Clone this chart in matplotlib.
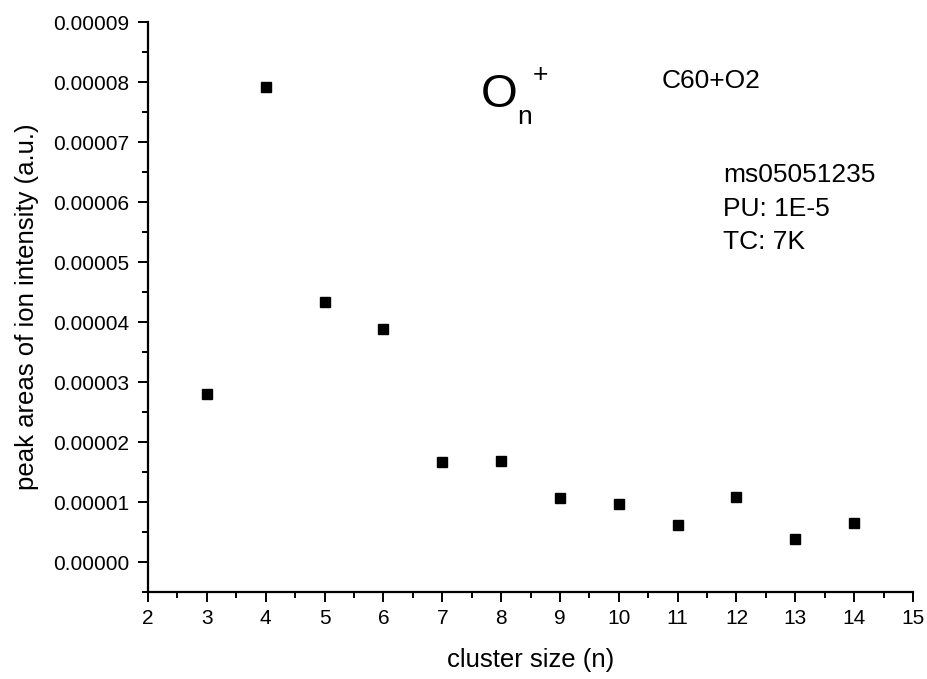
import matplotlib
matplotlib.use('Agg')
import matplotlib.pyplot as plt
from matplotlib.ticker import MultipleLocator, FormatStrFormatter

plt.rcParams['font.family'] = ['Liberation Sans', 'DejaVu Sans']

# cluster size n and peak areas
cluster_size = [3, 4, 5, 6, 7, 8, 9, 10, 11, 12, 13, 14]
peak_area = [2.80e-5, 7.91e-5, 4.33e-5, 3.88e-5, 1.66e-5, 1.68e-5,
             1.06e-5, 0.96e-5, 0.62e-5, 1.08e-5, 0.38e-5, 0.65e-5]

W, H = 928, 679
fig = plt.figure(figsize=(W / 100, H / 100), dpi=100)
ax = fig.add_axes([148 / W, 1 - 592 / H, (913 - 148) / W, (592 - 22) / H])

ax.plot(cluster_size, peak_area, linestyle='none', marker='s',
        markersize=7.2, color='black')

ax.set_xlim(2, 15)
ax.set_ylim(-0.000005, 0.00009)
ax.xaxis.set_major_locator(MultipleLocator(1))
ax.xaxis.set_minor_locator(MultipleLocator(0.5))
ax.yaxis.set_major_locator(MultipleLocator(0.00001))
ax.yaxis.set_minor_locator(MultipleLocator(0.000005))
ax.yaxis.set_major_formatter(FormatStrFormatter('%.5f'))

for side in ['top', 'right']:
    ax.spines[side].set_visible(False)
for side in ['left', 'bottom']:
    ax.spines[side].set_linewidth(1.6)

ax.tick_params(which='major', direction='out', length=7.5, width=1.4,
               labelsize=15, pad=5)
ax.tick_params(which='minor', direction='out', length=4, width=1.4)
ax.tick_params(axis='y', which='major', pad=6)

ax.set_xlabel('cluster size (n)', fontsize=18.5, labelpad=14)
ax.set_ylabel('peak areas of ion intensity (a.u.)', fontsize=18.5, labelpad=10)

# annotations, placed in pixel positions of the figure
def fig_text(x, y, s, **kw):
    fig.text(x / W, 1 - y / H, s, **kw)

fig_text(481, 107, 'O', fontsize=34, va='baseline')
fig_text(517, 124, 'n', fontsize=19, va='baseline')
fig_text(540, 75, '+', fontsize=19, va='center', ha='center')
fig_text(662, 88, 'C60+O2', fontsize=19, va='baseline')
fig_text(723, 182, 'ms05051235', fontsize=19, va='baseline')
fig_text(723, 216, 'PU: 1E-5', fontsize=19, va='baseline')
fig_text(723, 249, 'TC: 7K', fontsize=19, va='baseline')

plt.savefig('out.png', dpi=100, facecolor='white')
plt.close()
